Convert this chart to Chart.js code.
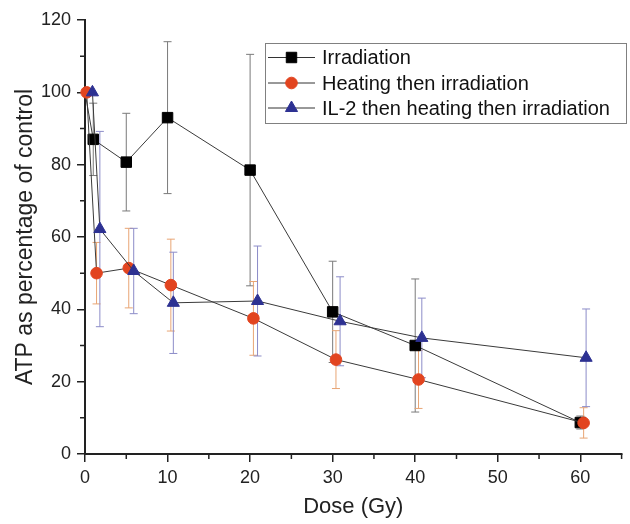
<!DOCTYPE html>
<html>
<head>
<meta charset="utf-8">
<script src="https://cdn.jsdelivr.net/npm/chart.js@4.4.0/dist/chart.umd.min.js"></script>
<style>
  html, body { margin: 0; padding: 0; background: #fff; }
  #wrap { width: 630px; height: 524px; }
</style>
</head>
<body>
<div id="wrap"><canvas id="atpChart" width="630" height="524"></canvas></div>
<script>
// Values
const seriesNames = ['Irradiation', 'Heating then irradiation', 'IL-2 then heating then irradiation'];

const doseIrr = [0, 1, 5, 10, 20, 30, 40, 60];
const atpIrr = [100, 87, 80.7, 93, 78.5, 39.3, 30, 8.7];
const errIrr = [0, 10, 13.5, 21, 32, 14, 18.4, 1.8];

const doseHeat = [0.2, 1.4, 5.3, 10.4, 20.4, 30.4, 40.4, 60.4];
const atpHeat = [100, 50, 51.4, 46.7, 37.5, 26.1, 20.6, 8.6];
const errHeat = [0, 8.5, 11, 12.7, 10.2, 8, 8, 4.2];

const doseIl2 = [0.9, 1.8, 5.9, 10.7, 20.9, 30.9, 40.8, 60.7];
const atpIl2 = [100, 62.2, 50.6, 41.8, 42.3, 36.7, 32.1, 26.6];
const errIl2 = [0, 27, 11.8, 14, 15.2, 12.3, 11, 13.5];

const xTicks = [0, 10, 20, 30, 40, 50, 60];
const xMinor = [5, 15, 25, 35, 45, 55, 65];
const yTicks = [0, 20, 40, 60, 80, 100, 120];
const yMinor = [10, 30, 50, 70, 90, 110];

const FONT = '"Liberation Sans", Arial, sans-serif';

function points(xs, ys) {
    return xs.map((x, i) => ({ x: x, y: ys[i] }));
}

// Error bars drawn under the markers, using the chart's scales
const errorBars = {
    id: 'errorBars',
    beforeDatasetsDraw(chart) {
        const ctx = chart.ctx;
        const xs = chart.scales.x;
        const ys = chart.scales.y;
        chart.data.datasets.forEach(ds => {
            ctx.save();
            ctx.strokeStyle = ds.errColor;
            ctx.lineWidth = 1;
            ds.data.forEach((p, i) => {
                const e = ds.errors[i];
                if (!e) return;
                const px = xs.getPixelForValue(p.x);
                const top = ys.getPixelForValue(p.y + e);
                const bot = ys.getPixelForValue(p.y - e);
                ctx.beginPath();
                ctx.moveTo(px, top); ctx.lineTo(px, bot);
                ctx.moveTo(px - 4, top); ctx.lineTo(px + 4, top);
                ctx.moveTo(px - 4, bot); ctx.lineTo(px + 4, bot);
                ctx.stroke();
            });
            ctx.restore();
        });
    }
};

// Minor ticks on both axes
const minorTicks = {
    id: 'minorTicks',
    afterDraw(chart) {
        const ctx = chart.ctx;
        const xs = chart.scales.x;
        const ys = chart.scales.y;
        const area = chart.chartArea;
        ctx.save();
        ctx.strokeStyle = '#222';
        ctx.lineWidth = 1.5;
        ctx.beginPath();
        xMinor.forEach(v => {
            const px = xs.getPixelForValue(v);
            ctx.moveTo(px, area.bottom); ctx.lineTo(px, area.bottom + 5);
        });
        yMinor.forEach(v => {
            const py = ys.getPixelForValue(v);
            ctx.moveTo(area.left, py); ctx.lineTo(area.left - 5, py);
        });
        ctx.stroke();
        ctx.restore();
    }
};

// Boxed legend inside the plot, top right
const boxLegend = {
    id: 'boxLegend',
    afterDraw(chart) {
        const ctx = chart.ctx;
        const left = 265, top = 43, right = 626, bottom = 123;
        ctx.save();
        ctx.fillStyle = '#fff';
        ctx.fillRect(left, top, right - left, bottom - top);
        ctx.strokeStyle = '#808080';
        ctx.lineWidth = 1;
        ctx.strokeRect(left + 0.5, top + 0.5, right - left, bottom - top);
        const rows = [57.5, 83, 108];
        chart.data.datasets.forEach((ds, i) => {
            const y = rows[i];
            ctx.strokeStyle = '#333';
            ctx.lineWidth = 1;
            ctx.beginPath();
            ctx.moveTo(268, y); ctx.lineTo(315, y);
            ctx.stroke();
            ctx.fillStyle = ds.pointBackgroundColor;
            ctx.strokeStyle = ds.pointBorderColor;
            Chart.helpers.drawPoint(ctx, {
                pointStyle: ds.pointStyle, radius: ds.markerSize,
                rotation: 0, borderWidth: 1
            }, 291.5, y);
            ctx.fillStyle = '#111';
            ctx.font = '20px ' + FONT;
            ctx.textBaseline = 'middle';
            ctx.textAlign = 'left';
            ctx.fillText(ds.label, 322, y + 1);
        });
        ctx.restore();
    }
};

new Chart(document.getElementById('atpChart').getContext('2d'), {
    type: 'scatter',
    data: {
        datasets: [{
            label: seriesNames[0],
            data: points(doseIrr, atpIrr),
            errors: errIrr,
            errColor: '#7a7a7a',
            showLine: true,
            borderColor: '#3a3a3a',
            borderWidth: 1,
            pointStyle: 'rect',
            markerSize: 7.4,
            // the 0 Gy control is hidden under the other markers in the figure
            pointRadius: c => c.dataIndex === 0 ? 0 : 7.4,
            pointHoverRadius: c => c.dataIndex === 0 ? 0 : 7.4,
            pointBackgroundColor: '#000000',
            pointBorderColor: '#000000',
            order: 2,
            clip: false
        }, {
            label: seriesNames[1],
            data: points(doseHeat, atpHeat),
            errors: errHeat,
            errColor: '#e8a574',
            showLine: true,
            borderColor: '#3a3a3a',
            borderWidth: 1,
            pointStyle: 'circle',
            markerSize: 5.8,
            pointRadius: 5.8,
            pointHoverRadius: 5.8,
            pointBackgroundColor: '#e2441f',
            pointBorderColor: '#e2441f',
            order: 1,
            clip: false
        }, {
            label: seriesNames[2],
            data: points(doseIl2, atpIl2),
            errors: errIl2,
            errColor: '#8c8cc8',
            showLine: true,
            borderColor: '#3a3a3a',
            borderWidth: 1,
            pointStyle: 'triangle',
            markerSize: 7,
            pointRadius: 7,
            pointHoverRadius: 7,
            pointBackgroundColor: '#2d3192',
            pointBorderColor: '#2d3192',
            order: 0,
            clip: false
        }]
    },
    options: {
        responsive: false,
        animation: false,
        devicePixelRatio: 1,
        layout: { padding: { top: 20, right: 4, left: 0, bottom: 0 } },
        scales: {
            x: {
                type: 'linear',
                min: 0,
                max: 65,
                afterBuildTicks: s => { s.ticks = xTicks.map(v => ({ value: v })); },
                afterFit: s => { s.height = 70; },
                grid: { drawOnChartArea: false, color: '#222', lineWidth: 1.5, tickLength: 8 },
                border: { display: true, color: '#222', width: 2 },
                ticks: { color: '#222', padding: 5, font: { family: FONT, size: 18 } },
                title: {
                    display: true, text: 'Dose (Gy)', color: '#222',
                    font: { family: FONT, size: 22 }, padding: { top: 0, bottom: 4 }
                }
            },
            y: {
                min: 0,
                max: 120,
                afterBuildTicks: s => { s.ticks = yTicks.map(v => ({ value: v })); },
                afterFit: s => { s.width = 85; },
                grid: { drawOnChartArea: false, color: '#222', lineWidth: 1.5, tickLength: 8 },
                border: { display: true, color: '#222', width: 2 },
                ticks: { color: '#222', padding: 6, font: { family: FONT, size: 18 } },
                title: {
                    display: true, text: 'ATP as percentage of control', color: '#222',
                    font: { family: FONT, size: 23 }, padding: { top: 12, bottom: 0 }
                }
            }
        },
        plugins: {
            legend: { display: false },
            tooltip: { enabled: false }
        }
    },
    plugins: [errorBars, minorTicks, boxLegend]
});
</script>
</body>
</html>
